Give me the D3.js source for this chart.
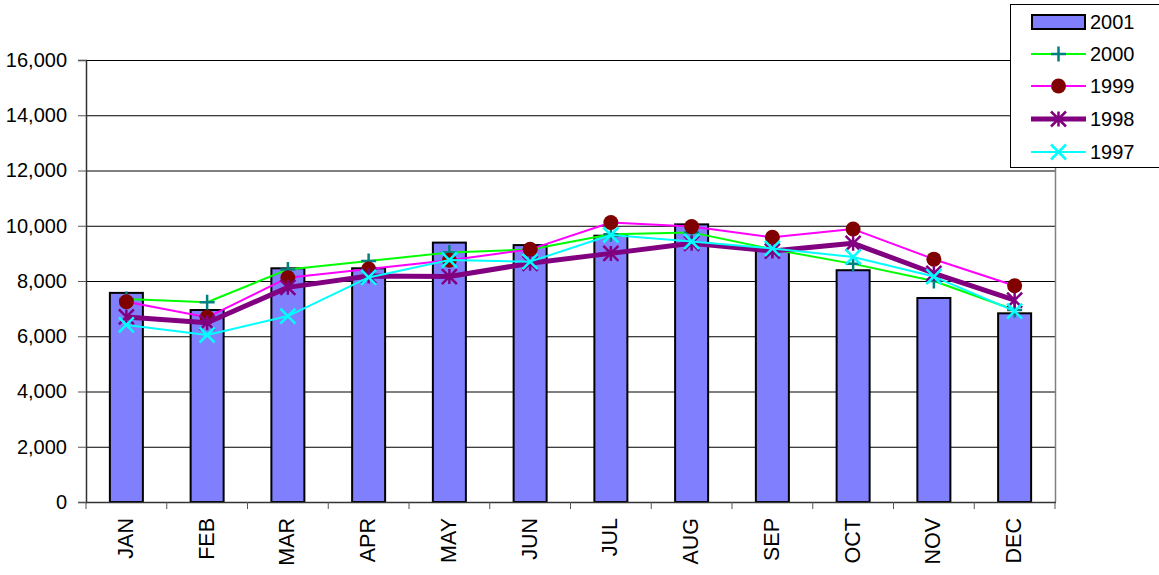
<!DOCTYPE html>
<html><head><meta charset="utf-8">
<script src="https://cdn.jsdelivr.net/npm/d3@7"></script>
<style>body{margin:0;background:#fff}svg{display:block;font-family:Arial,"Liberation Sans",sans-serif}</style>
</head><body><svg id="c" width="1159" height="575"></svg>
<script>
const months = ["JAN","FEB","MAR","APR","MAY","JUN","JUL","AUG","SEP","OCT","NOV","DEC"];
const yTicks = [0,2000,4000,6000,8000,10000,12000,14000,16000];
const s2001 = [7570,6950,8460,8460,9390,9300,9640,10050,9100,8390,7385,6830];
const s2000 = [7350,7230,8420,8720,9035,9140,9690,9760,9150,8620,8000,6950];
const s1999 = [7250,6685,8120,8435,8750,9145,10120,9970,9580,9880,8790,7830];
const s1998 = [6700,6490,7770,8180,8160,8640,9000,9365,9085,9365,8280,7310];
const s1997 = [6410,6045,6730,8130,8760,8700,9665,9430,9180,8870,8160,6910];

const svg = d3.select("#c");
const L = 86, R = 1055, T = 60, B = 502;
const x = d3.scaleBand().domain(months).range([L, R]).paddingInner(0).paddingOuter(0);
const y = d3.scaleLinear().domain([0,16000]).range([B, T]);

// grid
svg.append("g").selectAll("line").data(yTicks.filter(d=>d>0)).join("line")
  .attr("x1", L).attr("x2", R).attr("y1", d=>y(d)+0.5).attr("y2", d=>y(d)+0.5)
  .attr("stroke", "#000").attr("stroke-width", 1);
// right border
svg.append("line").attr("x1", R+0.5).attr("x2", R+0.5).attr("y1", T).attr("y2", B)
  .attr("stroke", "#808080").attr("stroke-width", 1.5);

// bars
const bw = 33;
svg.append("g").selectAll("rect").data(s2001).join("rect")
  .attr("x", (d,i)=>x(months[i]) + x.bandwidth()/2 - bw/2)
  .attr("y", d=>y(d)).attr("width", bw).attr("height", d=>B - y(d))
  .attr("fill", "#8080FF").attr("stroke", "#000").attr("stroke-width", 2);

// axes
const yAxis = d3.axisLeft(y).tickValues(yTicks).tickSize(8).tickFormat(d3.format(","));
const gy = svg.append("g").attr("transform", `translate(${L},0)`).call(yAxis);
gy.select(".domain").attr("stroke", "#333").attr("stroke-width", 1.5);
gy.selectAll(".tick line").attr("stroke", "#555");
gy.selectAll(".tick text").attr("font-size", 20).attr("fill", "#000").attr("x", -19).attr("font-family", "Arial, 'Liberation Sans', sans-serif");

const gx = svg.append("g").attr("transform", `translate(0,${B})`);
gx.append("line").attr("x1", L).attr("x2", R+1).attr("y1", 0.5).attr("y2", 0.5).attr("stroke", "#333").attr("stroke-width", 1.5);
gx.selectAll(".tk").data(d3.range(months.length+1)).join("line").attr("class","tk")
  .attr("x1", i=> L + i*x.step()).attr("x2", i=> L + i*x.step())
  .attr("y1", 0).attr("y2", 7).attr("stroke", "#555").attr("stroke-width", 1);
gx.selectAll("text").data(months).join("text")
  .attr("transform", d=>`translate(${x(d)+x.bandwidth()/2+6.5},16) rotate(-90)`)
  .attr("text-anchor", "end").attr("font-size", 21.5).attr("fill", "#000").text(d=>d);

const cx = i => x(months[i]) + x.bandwidth()/2;
const line = d3.line().x((d,i)=>cx(i)).y(d=>y(d));

function marker(g, type, color, sz) {
  const h = sz/2;
  if (type === "plus") {
    g.append("path").attr("d", `M${-h},0H${h}M0,${-h}V${h}`).attr("stroke", color).attr("stroke-width", 2.5).attr("fill","none");
  } else if (type === "circle") {
    g.append("circle").attr("r", h).attr("fill", color);
  } else if (type === "star") {
    g.append("path").attr("d", `M${-h},${-h}L${h},${h}M${-h},${h}L${h},${-h}M0,${-h}V${h}`).attr("stroke", color).attr("stroke-width", 2.5).attr("fill","none");
  } else if (type === "x") {
    g.append("path").attr("d", `M${-h},${-h}L${h},${h}M${-h},${h}L${h},${-h}`).attr("stroke", color).attr("stroke-width", 2.5).attr("fill","none");
  }
}

const series = [
  {name:"2000", data:s2000, color:"#00FF00", w:2, m:"plus", mc:"#008080", ms:15},
  {name:"1999", data:s1999, color:"#FF00FF", w:2, m:"circle", mc:"#800000", ms:15},
  {name:"1998", data:s1998, color:"#800080", w:5, m:"star", mc:"#800080", ms:15},
  {name:"1997", data:s1997, color:"#00FFFF", w:2, m:"x", mc:"#00FFFF", ms:15}
];
series.forEach(s => {
  svg.append("path").datum(s.data).attr("d", line).attr("fill","none")
    .attr("stroke", s.color).attr("stroke-width", s.w).attr("stroke-linejoin","round");
  s.data.forEach((v,i) => {
    const g = svg.append("g").attr("transform", `translate(${cx(i)},${y(v)})`);
    marker(g, s.m, s.mc, s.ms);
  });
});

// legend
const lg = svg.append("g");
lg.append("rect").attr("x", 1010.5).attr("y", 4.5).attr("width", 160).attr("height", 163)
  .attr("fill", "#fff").attr("stroke", "#000").attr("stroke-width", 1);
const ly = [22, 54, 86, 119, 152];
lg.append("rect").attr("x", 1032).attr("y", ly[0]-7).attr("width", 53).attr("height", 14)
  .attr("fill", "#8080FF").attr("stroke", "#000").attr("stroke-width", 2);
lg.append("text").attr("x", 1090).attr("y", ly[0]+7).attr("font-size", 20).text("2001");
series.forEach((s, k) => {
  const yy = ly[k+1];
  lg.append("line").attr("x1", 1031).attr("x2", 1086).attr("y1", yy).attr("y2", yy)
    .attr("stroke", s.color).attr("stroke-width", s.w);
  const g = lg.append("g").attr("transform", `translate(1058.5,${yy})`);
  marker(g, s.m, s.mc, s.ms);
  lg.append("text").attr("x", 1090).attr("y", yy+7).attr("font-size", 20).text(s.name);
});
</script></body></html>
